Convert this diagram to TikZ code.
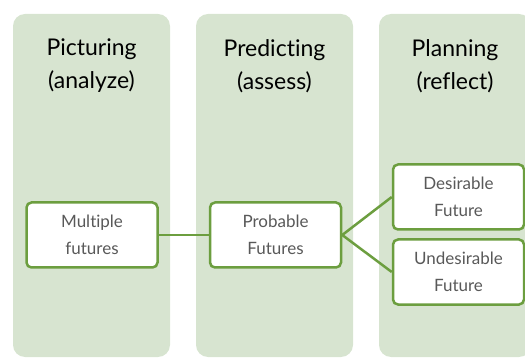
\documentclass[tikz,border=0pt]{standalone}
\usepackage{fontspec}
\setmainfont{Lato}[Ligatures=NoCommon]
\definecolor{colfill}{HTML}{D7E4D0}
\definecolor{edge}{HTML}{6C9E3F}
\definecolor{txt}{HTML}{595959}
\begin{document}
\begin{tikzpicture}[x=1pt,y=-1pt,
  column/.style={fill=colfill,draw=none,rounded corners=12pt},
  title/.style={align=center,font=\fontsize{23}{33}\selectfont,text=black},
  item/.style={draw=edge,line width=2.5pt,fill=white,rounded corners=5pt,
    minimum width=131pt,minimum height=65pt,align=center,inner sep=0pt,
    font=\fontsize{17}{27}\selectfont,text=txt},
  link/.style={draw=edge,line width=2.5pt}]
\useasboundingbox (0,0) rectangle (525,358);
\clip (0,0) rectangle (525,358);
\fill[column] (13,14) rectangle (170,357);
\fill[column] (196,14) rectangle (353,357);
\fill[column] (379,14) rectangle (531,357);
\node[title] (t1) at (91.5,66) {Picturing\\(analyze)};
\node[title] (t2) at (274.5,66) {Predicting\\(assess)};
\node[title] (t3) at (455,66) {Planning\\(reflect)};
\node[item] (mf) at (92,235) {Multiple\\futures};
\node[item] (pf) at (275.5,235) {Probable\\Futures};
\node[item] (df) at (458.5,197) {Desirable\\Future};
\node[item] (uf) at (458.5,272) {Undesirable\\Future};
\draw[link] (mf.east) -- (pf.west);
\draw[link] (pf.east) -- (df.west);
\draw[link] (pf.east) -- (uf.west);
\end{tikzpicture}
\end{document}
